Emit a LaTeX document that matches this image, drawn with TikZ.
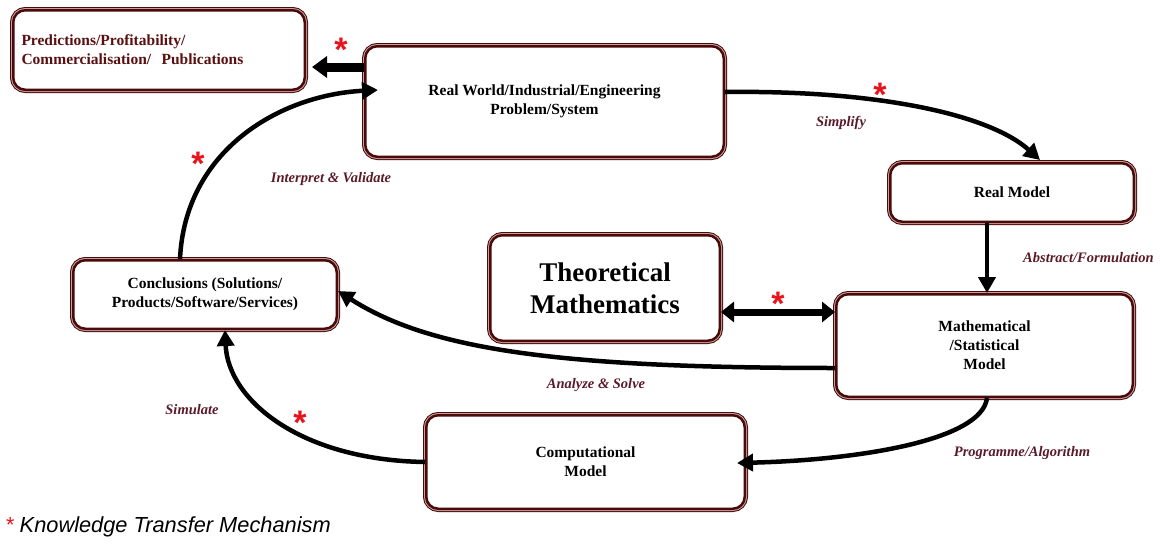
\documentclass[tikz,border=0pt]{standalone}
\usepackage{fontspec}
\setmainfont{Liberation Serif}
\newfontfamily\arialf{Liberation Sans}
\usetikzlibrary{arrows.meta}
\definecolor{boxdark}{HTML}{4A0A0A}
\definecolor{boxlight}{HTML}{C8A0A0}
\definecolor{lblcol}{HTML}{5A1A28}
\definecolor{predcol}{HTML}{5A1010}
\definecolor{starred}{HTML}{E8141B}
\begin{document}
\begin{tikzpicture}[x=1pt,y=-1pt,
  box/.style={rounded corners=12pt, fill=white, draw=boxdark, line width=2.5pt,
    inner sep=0pt, align=center,
    preaction={draw=boxdark, line width=6.5pt},
    preaction={draw=boxlight, line width=4.5pt},
    font=\fontsize{15.5}{19}\selectfont\bfseries},
  flow/.style={line width=4.5pt, -{Triangle[length=16pt,width=17pt]}},
  blockarrow/.style={line width=9pt, -{Triangle[length=15pt,width=21pt]}},
  dblarrow/.style={line width=7pt, {Triangle[length=13pt,width=20pt]}-{Triangle[length=13pt,width=20pt]}},
  lbl/.style={text=lblcol, font=\fontsize{14.5}{17}\selectfont\bfseries\itshape, inner sep=0pt},
  star/.style={text=starred, font=\arialf\bfseries\fontsize{34}{34}\selectfont, inner sep=0pt, anchor=base}
]
\useasboundingbox (0,0) rectangle (1160,544);

% boxes
\node[box, minimum width=291.5pt, minimum height=79.5pt, text width=275pt, align=left, text=predcol]
  (pred) at (159,50) {Predictions/Profitability/\\Commercialisation/\ \ Publications};
\node[box, minimum width=358.5pt, minimum height=110.5pt]
  (rw) at (544.5,101.5) {Real World/Industrial/Engineering\\Problem/System};
\node[box, minimum width=243.5pt, minimum height=58.5pt]
  (rm) at (1012,192.5) {Real Model};
\node[box, minimum width=229.5pt, minimum height=105.5pt, font=\fontsize{27}{32}\selectfont\bfseries]
  (tm) at (605,288) {Theoretical\\Mathematics};
\node[box, minimum width=296.5pt, minimum height=102.5pt]
  (mm) at (984.5,345.5) {Mathematical\\/Statistical\\Model};
\node[box, minimum width=263.5pt, minimum height=68.5pt]
  (cc) at (205,294.5) {Conclusions (Solutions/\\Products/Software/Services)};
\node[box, minimum width=318.5pt, minimum height=93.5pt]
  (cm) at (585.5,462) {Computational\\Model};

% connectors
\draw[blockarrow] ([yshift=34.5pt]rw.west) -- ([xshift=6pt,yshift=-17pt]pred.east);
\draw[flow] ([xshift=-25pt]cc.north) .. controls (185,150) and (280,95) .. ([xshift=14pt,yshift=11.5pt]rw.west);
\draw[flow] ([yshift=9.5pt]rw.east) .. controls (880,90) and (990,115) .. ([xshift=28pt,yshift=2pt]rm.north);
\draw[flow] ([xshift=-25pt]rm.south) -- ([xshift=2.5pt]mm.north);
\draw[dblarrow] ([yshift=-24pt]tm.east) -- ([yshift=33.5pt]mm.west);
\draw[flow] ([yshift=-22.5pt]mm.west) .. controls (560,368) and (430,350) .. ([yshift=3.5pt]cc.east);
\draw[flow] ([xshift=2.5pt]mm.south) .. controls (982,440) and (860,460) .. ([xshift=-9pt,yshift=-1pt]cm.east);
\draw[flow] (cm.west) .. controls (300,460) and (228,400) .. ([xshift=20pt]cc.south);

% labels
\node[lbl] (lint) at (331,179) {Interpret \& Validate};
\node[lbl] (lsim) at (841,123) {Simplify};
\node[lbl, anchor=west] (labs) at (1023,258) {Abstract/Formulation};
\node[lbl] (lana) at (596,385) {Analyze \& Solve};
\node[lbl] (lprg) at (1022,453) {Programme/Algorithm};
\node[lbl] (lsmu) at (192,410) {Simulate};

% stars
\node[star] (s1) at (341,61) {*};
\node[star] (s2) at (880,106) {*};
\node[star] (s3) at (198,175) {*};
\node[star] (s4) at (778,315) {*};
\node[star] (s5) at (300,434) {*};

% legend
\node[anchor=base west, inner sep=0pt, font=\arialf\itshape\fontsize{21.8}{25}\selectfont]
  (legend) at (5,532) {\textcolor{starred}{*} Knowledge Transfer Mechanism};
\end{tikzpicture}
\end{document}
